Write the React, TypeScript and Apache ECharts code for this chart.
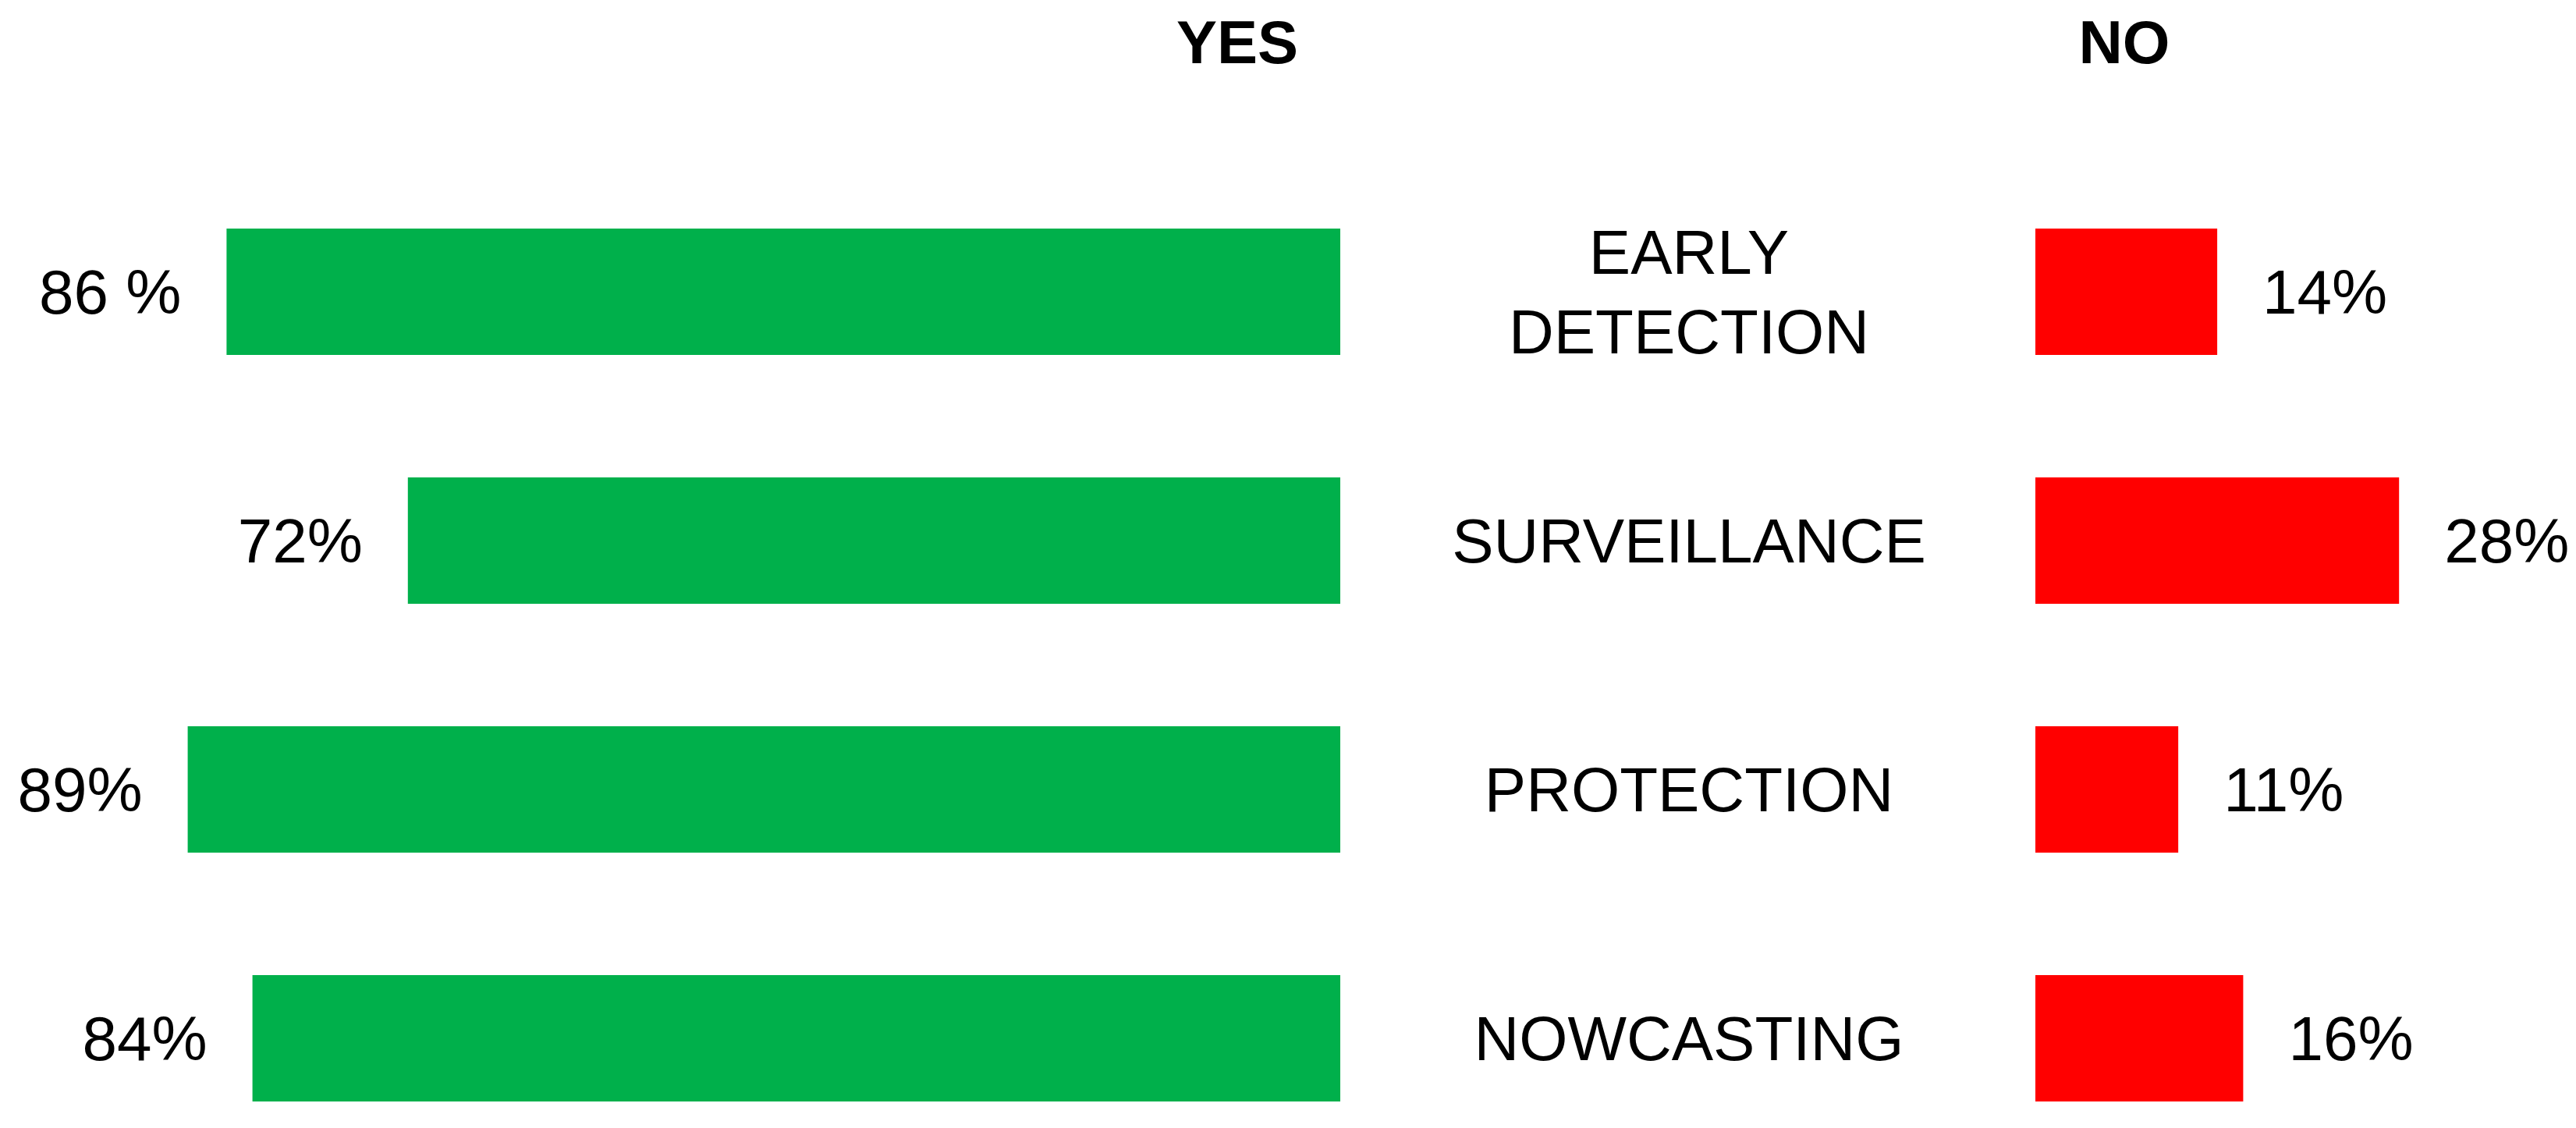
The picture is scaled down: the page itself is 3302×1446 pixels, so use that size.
import React, { useEffect, useRef } from "react";
import * as echarts from "echarts";

const categories = ["EARLY\nDETECTION", "SURVEILLANCE", "PROTECTION", "NOWCASTING"];
const yesValues = [86, 72, 89, 84];
const noValues = [14, 28, 11, 16];
const yesLabels = ["86 %", "72%", "89%", "84%"];
const noLabels = ["14%", "28%", "11%", "16%"];
const headers = ["YES", "NO"];

const FONT = "'Liberation Sans', Arial, sans-serif";

export default function App() {
  const ref = useRef<HTMLDivElement>(null);
  useEffect(() => {
    if (!ref.current) return;
    const chart = echarts.init(ref.current, null, { renderer: "svg" });
    const hiddenAxis = {
      axisLine: { show: false },
      axisTick: { show: false },
      splitLine: { show: false },
      axisLabel: { show: false },
    };
    chart.setOption({
      animation: false,
      backgroundColor: "#ffffff",
      textStyle: { fontFamily: FONT },
      grid: [
        { left: 58, width: 1660, top: 374, height: 957 },
        { left: 2609, width: 666, top: 374, height: 957 },
      ],
      xAxis: [
        { type: "value", gridIndex: 0, min: 0, max: 100, inverse: true, ...hiddenAxis },
        { type: "value", gridIndex: 1, min: 0, max: 40, ...hiddenAxis },
      ],
      yAxis: [
        {
          type: "category",
          gridIndex: 0,
          data: categories,
          inverse: true,
          boundaryGap: false,
          ...hiddenAxis,
        },
        {
          type: "category",
          gridIndex: 1,
          data: categories,
          inverse: true,
          boundaryGap: false,
          axisLine: { show: false },
          axisTick: { show: false },
          splitLine: { show: false },
          axisLabel: {
            show: true,
            margin: 444,
            align: "center",
            verticalAlign: "middle",
            fontSize: 80,
            lineHeight: 102,
            color: "#000000",
            fontFamily: FONT,
          },
        },
      ],
      series: [
        {
          type: "bar",
          xAxisIndex: 0,
          yAxisIndex: 0,
          data: yesValues,
          barWidth: 162,
          itemStyle: { color: "#00B04B" },
          label: {
            show: true,
            position: "left",
            distance: 58,
            fontSize: 80,
            color: "#000000",
            fontFamily: FONT,
            formatter: (p: any) => yesLabels[p.dataIndex],
          },
        },
        {
          type: "bar",
          xAxisIndex: 1,
          yAxisIndex: 1,
          data: noValues,
          barWidth: 162,
          itemStyle: { color: "#FF0000" },
          label: {
            show: true,
            position: "right",
            distance: 58,
            fontSize: 80,
            color: "#000000",
            fontFamily: FONT,
            formatter: (p: any) => noLabels[p.dataIndex],
          },
        },
      ],
      graphic: [
        {
          type: "text",
          x: 1586,
          y: 54,
          style: {
            text: headers[0],
            fontSize: 78,
            fontWeight: "bold",
            fontFamily: FONT,
            fill: "#000000",
            textAlign: "center",
            textVerticalAlign: "middle",
          },
        },
        {
          type: "text",
          x: 2723,
          y: 54,
          style: {
            text: headers[1],
            fontSize: 78,
            fontWeight: "bold",
            fontFamily: FONT,
            fill: "#000000",
            textAlign: "center",
            textVerticalAlign: "middle",
          },
        },
      ],
    });
    return () => chart.dispose();
  }, []);
  return (
    <div
      ref={ref}
      style={{ position: "fixed", left: 0, top: 0, width: 3302, height: 1446 }}
    />
  );
}
